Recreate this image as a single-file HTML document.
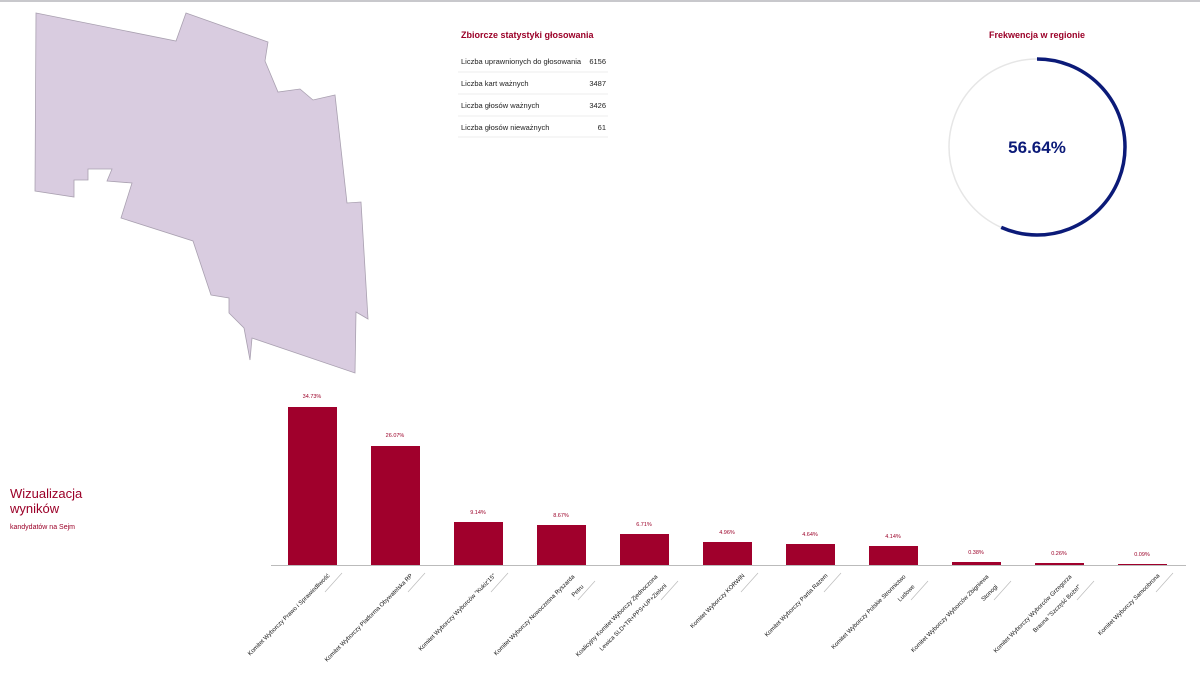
<!DOCTYPE html>
<html><head><meta charset="utf-8"><style>
html,body{margin:0;padding:0;background:#fff;}
body{width:1200px;height:697px;position:relative;overflow:hidden;font-family:"Liberation Sans",sans-serif;}
</style></head><body>
<div style="position:absolute;left:0;top:0;width:1200px;height:2px;background:#c8c8cc"></div>
<svg width="1200" height="697" style="position:absolute;left:0;top:0" font-family="Liberation Sans, sans-serif">
<polygon points="36,13 176,41 186,13 268,42 265,61 278,92 300,89 313,100 335,95 347,203 361,202 368,319 356,312 355,373 252,338 250,360 244,328 229,313 229,298 211,295 193,241 121,218 132,183 107,181 112,169 88,169 88,180 74,180 74,197 35,191" fill="#d9cce0" stroke="#a9a0b0" stroke-width="0.8"/>
<text x="461" y="38" font-size="9" font-weight="bold" fill="#9b0028">Zbiorcze statystyki głosowania</text>
<g font-size="7.5" fill="#222">
<text x="461" y="64">Liczba uprawnionych do głosowania</text><text x="606" y="64" text-anchor="end">6156</text>
<text x="461" y="86">Liczba kart ważnych</text><text x="606" y="86" text-anchor="end">3487</text>
<text x="461" y="108">Liczba głosów ważnych</text><text x="606" y="108" text-anchor="end">3426</text>
<text x="461" y="130">Liczba głosów nieważnych</text><text x="606" y="130" text-anchor="end">61</text>
</g>
<g stroke="#eee" stroke-width="1"><line x1="458" y1="72" x2="608" y2="72"/><line x1="458" y1="94" x2="608" y2="94"/><line x1="458" y1="116" x2="608" y2="116"/><line x1="458" y1="137" x2="608" y2="137"/></g>
<text x="1037" y="38" font-size="9" font-weight="bold" fill="#9b0028" text-anchor="middle">Frekwencja w regionie</text>
<circle cx="1037" cy="147" r="88" fill="none" stroke="#e6e6e6" stroke-width="1.5"/>
<circle cx="1037" cy="147" r="88" fill="none" stroke="#0b1a78" stroke-width="3.5" stroke-dasharray="313.2 600" transform="rotate(-90 1037 147)"/>
<text x="1037" y="153" font-size="17" font-weight="bold" fill="#0b1a78" text-anchor="middle">56.64%</text>
<text x="10" y="498" font-size="13" fill="#9b0028">Wizualizacja</text>
<text x="10" y="513" font-size="13" fill="#9b0028">wyników</text>
<text x="10" y="529" font-size="7" fill="#9b0028">kandydatów na Sejm</text>
<line x1="271" y1="565.5" x2="1186" y2="565.5" stroke="#bbb" stroke-width="1"/>
<g fill="#a0002c">
<rect x="288" y="407" width="49" height="158"/>
<rect x="371" y="446" width="49" height="119"/>
<rect x="454" y="522" width="49" height="43"/>
<rect x="537" y="525" width="49" height="40"/>
<rect x="620" y="534" width="49" height="31"/>
<rect x="703" y="542" width="49" height="23"/>
<rect x="786" y="544" width="49" height="21"/>
<rect x="869" y="546" width="49" height="19"/>
<rect x="952" y="562" width="49" height="3"/>
<rect x="1035" y="563" width="49" height="2"/>
<rect x="1118" y="564" width="49" height="1"/>
</g>
<g font-size="5.5" fill="#9b0028" text-anchor="middle">
<text x="312" y="398">34.73%</text><text x="395" y="437">26.07%</text><text x="478" y="514">9.14%</text><text x="561" y="517">8.67%</text><text x="644" y="526">6.71%</text><text x="727" y="534">4.96%</text><text x="810" y="536">4.64%</text><text x="893" y="538">4.14%</text><text x="976" y="554">0.38%</text><text x="1059" y="555">0.26%</text><text x="1142" y="556">0.09%</text>
</g>
<g font-size="6" fill="#111" text-anchor="end">
<text transform="translate(330,576) rotate(-45)">Komitet Wyborczy Prawo i Sprawiedliwość</text>
<text transform="translate(413,576) rotate(-45)">Komitet Wyborczy Platforma Obywatelska RP</text>
<text transform="translate(496,576) rotate(-45)">Komitet Wyborczy Wyborców "Kukiz'15"</text>
<text transform="translate(575,577) rotate(-45)">Komitet Wyborczy Nowoczesna Ryszarda</text>
<text transform="translate(584,587) rotate(-45)">Petru</text>
<text transform="translate(658,577) rotate(-45)">Koalicyjny Komitet Wyborczy Zjednoczona</text>
<text transform="translate(667,586) rotate(-45)">Lewica SLD+TR+PPS+UP+Zieloni</text>
<text transform="translate(745,576) rotate(-45)">Komitet Wyborczy KORWiN</text>
<text transform="translate(828,576) rotate(-45)">Komitet Wyborczy Partia Razem</text>
<text transform="translate(906,577) rotate(-45)">Komitet Wyborczy Polskie Stronnictwo</text>
<text transform="translate(915,587) rotate(-45)">Ludowe</text>
<text transform="translate(989,577) rotate(-45)">Komitet Wyborczy Wyborców Zbigniewa</text>
<text transform="translate(998,587) rotate(-45)">Stonogi</text>
<text transform="translate(1072,577) rotate(-45)">Komitet Wyborczy Wyborców Grzegorza</text>
<text transform="translate(1081,587) rotate(-45)">Brauna "Szczęść Boże!"</text>
<text transform="translate(1160,576) rotate(-45)">Komitet Wyborczy Samoobrona</text>
</g>
<g stroke="#bbb" stroke-width="0.7">
<line x1="342" y1="573" x2="325" y2="592"/><line x1="425" y1="573" x2="408" y2="592"/><line x1="508" y1="573" x2="491" y2="592"/><line x1="595" y1="581" x2="578" y2="600"/><line x1="678" y1="581" x2="661" y2="600"/><line x1="758" y1="573" x2="741" y2="592"/><line x1="841" y1="573" x2="824" y2="592"/><line x1="928" y1="581" x2="911" y2="600"/><line x1="1011" y1="581" x2="994" y2="600"/><line x1="1094" y1="581" x2="1077" y2="600"/><line x1="1173" y1="573" x2="1156" y2="592"/>
</g>
</svg>
</body></html>
